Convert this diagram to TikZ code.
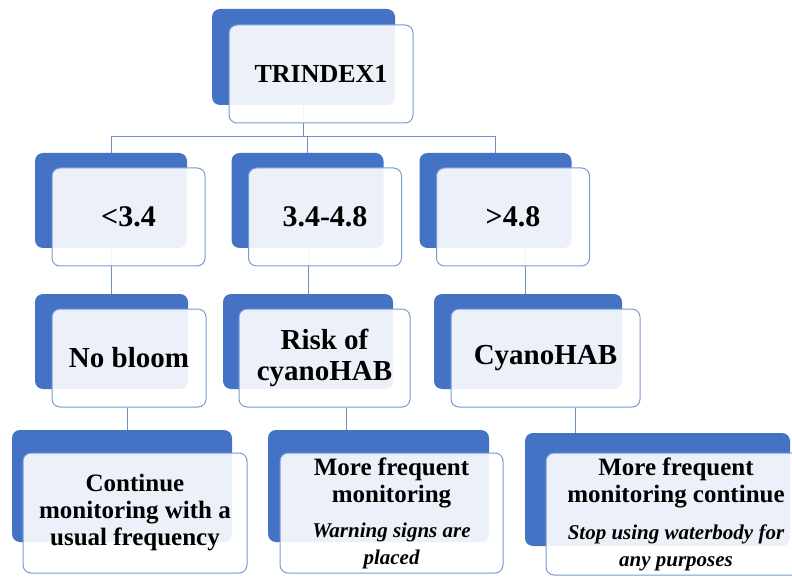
\documentclass[tikz,border=0pt]{standalone}
\usepackage{fontspec}
\setmainfont{Liberation Serif}
\definecolor{darkblue}{RGB}{68,114,196}
\definecolor{edgeblue}{RGB}{122,154,214}
\definecolor{lineblue}{RGB}{112,142,202}
\newcommand{\advice}{\fontsize{21}{25}\selectfont\bfseries\itshape}

\begin{document}
\begin{tikzpicture}[x=1pt,y=-1pt,
  back/.style = {fill=darkblue, rounded corners=8pt, inner sep=0pt},
  front/.style = {draw=edgeblue, line width=1pt, fill=white, fill opacity=0.9, text opacity=1, rounded corners=8pt, align=center, inner sep=0pt},
  link/.style = {draw=lineblue, line width=1pt},
  headbox/.style = {font=\fontsize{26}{30}\selectfont\bfseries},
  rangebox/.style = {font=\fontsize{30}{32}\selectfont\bfseries},
  statebox/.style = {font=\fontsize{29}{31}\selectfont\bfseries},
  actionbox/.style = {font=\fontsize{25}{27}\selectfont\bfseries}]
\clip (0,0) rectangle (792,577);
% back boxes
\node[back, minimum width=183, minimum height=96] (idx-b) at (303.5,57) {};
\node[back, minimum width=152, minimum height=95] (lo-b) at (111,200.5) {};
\node[back, minimum width=152, minimum height=95] (mid-b) at (307.5,200.5) {};
\node[back, minimum width=152, minimum height=95] (hi-b) at (495.5,200.5) {};
\node[back, minimum width=153, minimum height=95] (nobloom-b) at (111.5,341.5) {};
\node[back, minimum width=170, minimum height=95] (risk-b) at (308,341.5) {};
\node[back, minimum width=188, minimum height=95] (bloom-b) at (528,341.5) {};
\node[back, minimum width=220, minimum height=112] (usual-b) at (122,486) {};
\node[back, minimum width=221, minimum height=112] (frequent-b) at (378.5,486) {};
\node[back, minimum width=265, minimum height=113] (stop-b) at (657.5,489.5) {};
% connectors
\coordinate (bar) at (0,137);
\draw[link] (idx-b.south) -- (idx-b.south |- bar) -| (lo-b.north);
\draw[link] (idx-b.south |- bar) -| (mid-b.north);
\draw[link] (idx-b.south |- bar) -| (hi-b.north);
\draw[link] (nobloom-b.north) -- (nobloom-b.north |- lo-b.south);
\draw[link] (risk-b.north) -- (risk-b.north |- mid-b.south);
\coordinate (k3) at ([xshift=-3]bloom-b.north);
\draw[link] (k3) -- (k3 |- hi-b.south);
% front boxes
\node[front, headbox, minimum width=184, minimum height=98] (idx) at (321,74) {TRINDEX1};
\node[front, rangebox, minimum width=153, minimum height=98] (lo) at (128.5,217) {<3.4};
\node[front, rangebox, minimum width=153, minimum height=98] (mid) at (325,217) {3.4-4.8};
\node[front, rangebox, minimum width=153, minimum height=98] (hi) at (513,217) {>4.8};
\node[front, statebox, minimum width=154, minimum height=98] (nobloom) at (129,358) {No bloom};
\node[front, statebox, minimum width=171, minimum height=98] (risk) at (324.5,358) {Risk of\\cyanoHAB};
\node[front, statebox, minimum width=189, minimum height=98] (bloom) at (545.5,358) {CyanoHAB};
\node[front, actionbox, minimum width=224, minimum height=120] (usual) at (135,513) {Continue\\monitoring with a\\usual frequency};
\node[front, actionbox, minimum width=223, minimum height=120] (frequent) at (391.5,513) {More frequent\\monitoring\\[8pt]\advice Warning signs are\\\advice placed};
\node[front, actionbox, minimum width=260, minimum height=122] (stop) at (676,514) {More frequent\\monitoring continue\\[10pt]\advice Stop using waterbody for\\\advice any purposes};
% lower connectors
\coordinate (k4) at ([xshift=-2]nobloom.south);
\coordinate (k5) at ([xshift=21.5]risk.south);
\coordinate (k6) at ([xshift=29.5]bloom.south);
\draw[link] (k4) -- (k4 |- usual-b.north);
\draw[link] (k5) -- (k5 |- frequent-b.north);
\draw[link] (k6) -- (k6 |- stop-b.north);
\end{tikzpicture}
\end{document}
